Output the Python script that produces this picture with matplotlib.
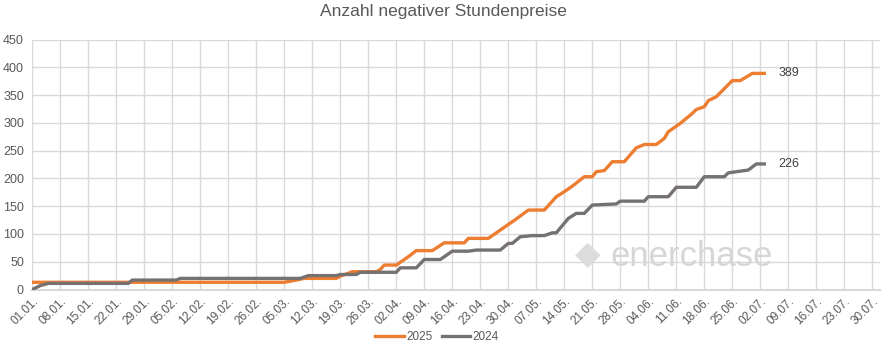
import matplotlib
matplotlib.use("Agg")
import matplotlib.pyplot as plt

plt.rcParams['font.family'] = ['Liberation Sans', 'DejaVu Sans']

# x = day of year (0 = 01.01.)
days_2025 = [0, 63, 66, 68, 76, 77, 80, 86, 87, 88, 91, 93, 94, 96, 100, 103, 108, 109,
             114, 117, 119, 121, 124, 128, 131, 133, 135, 138, 140, 141, 143, 145, 148,
             151, 153, 156, 158, 159, 162, 165, 166, 168, 169, 171, 175, 177, 180, 183]
vals_2025 = [13, 13, 17, 20, 20, 24, 32, 32, 36, 44, 44, 54, 59, 70, 70, 84, 84, 92,
             92, 107, 117, 127, 143, 143, 167, 176, 186, 203, 203, 212, 214, 230, 230,
             255, 261, 261, 272, 284, 299, 317, 324, 329, 340, 347, 376, 376, 389, 389]

days_2024 = [0, 2, 4, 24, 25, 36, 37, 67, 69, 76, 77, 81, 82, 91, 92, 96, 98, 102, 105,
             109, 111, 117, 119, 120, 122, 125, 128, 130, 131, 134, 136, 138, 140, 146,
             147, 153, 154, 159, 161, 166, 168, 173, 174, 176, 179, 181, 183]
vals_2024 = [0, 7, 11, 11, 17, 17, 20, 20, 25, 25, 27, 27, 31, 31, 39, 39, 54, 54, 69,
             69, 71, 71, 83, 83, 95, 97, 97, 102, 102, 128, 137, 137, 152, 154,
             159, 159, 167, 167, 184, 184, 203, 203, 210, 212, 215, 226, 226]

tick_labels = ["01.01.", "08.01.", "15.01.", "22.01.", "29.01.", "05.02.", "12.02.",
               "19.02.", "26.02.", "05.03.", "12.03.", "19.03.", "26.03.", "02.04.",
               "09.04.", "16.04.", "23.04.", "30.04.", "07.05.", "14.05.", "21.05.",
               "28.05.", "04.06.", "11.06.", "18.06.", "25.06.", "02.07.", "09.07.",
               "16.07.", "23.07.", "30.07."]
tick_days = [7 * i for i in range(len(tick_labels))]
y_ticks = list(range(0, 451, 50))

C25 = "#ED7D31"
C24 = "#767171"
TXT = "#595959"
GRID = "#D9D9D9"

W, H = 887, 352
fig = plt.figure(figsize=(W / 100, H / 100), dpi=100)
ax = fig.add_axes([32.3 / W, (H - 289.5) / H, (880.3 - 32.3) / W, (289.5 - 39.5) / H])

ax.plot(days_2025, vals_2025, color=C25, lw=2.4, label="2025", solid_joinstyle="round", zorder=3)
ax.plot(days_2024, vals_2024, color=C24, lw=2.4, label="2024", solid_joinstyle="round", zorder=3)

ax.set_xlim(0, 212)
ax.set_ylim(0, 450)
ax.set_xticks(tick_days)
ax.set_xticklabels(tick_labels, rotation=45, ha="right", va="top",
                   rotation_mode="anchor", fontsize=8.5, color=TXT)
ax.set_yticks(y_ticks)
ax.set_yticklabels([str(v) for v in y_ticks], fontsize=9, color=TXT)
ax.tick_params(axis="both", length=0, pad=6)
ax.tick_params(axis="x", pad=4)
ax.grid(True, color=GRID, lw=1)
ax.set_axisbelow(True)
for s in ["top", "right", "left"]:
    ax.spines[s].set_visible(False)
ax.spines["bottom"].set_color(GRID)
ax.spines["bottom"].set_linewidth(1.5)

# end labels
ax.annotate(str(vals_2025[-1]), (days_2025[-1], vals_2025[-1]), xytext=(10, 0),
            textcoords="offset points", va="center", ha="left", fontsize=9, color="#404040")
ax.annotate(str(vals_2024[-1]), (days_2024[-1], vals_2024[-1]), xytext=(10, 0),
            textcoords="offset points", va="center", ha="left", fontsize=9, color="#404040")

# watermark
fig.text(610 / W, 1 - 256 / H, "enerchase", fontsize=25, color="#D6D6D6",
         ha="left", va="center", zorder=0)
fig.text(588 / W, 1 - 255 / H, "\u25C6", fontsize=24, color="#DCDCDC",
         ha="center", va="center", zorder=0)

fig.suptitle("Anzahl negativer Stundenpreise", y=1 - 4 / H, va="top", fontsize=12.5, color=TXT)

fig.legend(loc="lower center", bbox_to_anchor=(437 / W, -0.005), ncol=2, frameon=False,
           fontsize=8.5, handlelength=2.4, columnspacing=0.8, handletextpad=0.2,
           labelcolor=TXT)

fig.savefig("out.png", dpi=100)
